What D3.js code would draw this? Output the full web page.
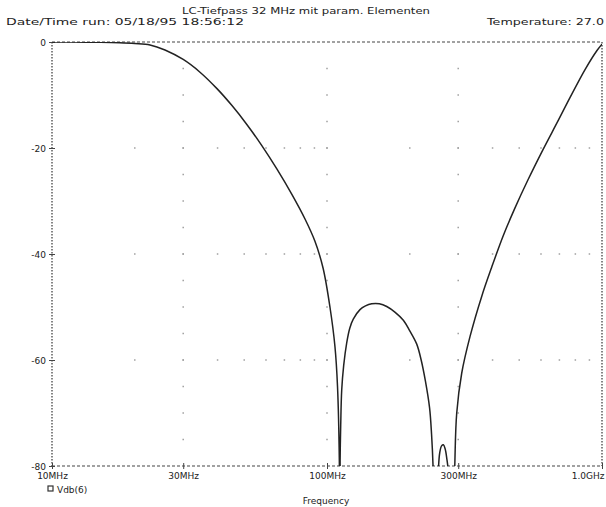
<!DOCTYPE html>
<html>
<head>
<meta charset="utf-8">
<script src="https://cdn.jsdelivr.net/npm/d3@7"></script>
<style>
  html, body { margin: 0; padding: 0; background: #fff; }
  svg { display: block; }
  text { font-family: "DejaVu Sans", "Liberation Sans", sans-serif; fill: #222; }
</style>
</head>
<body>
<svg id="chart" width="606" height="507"></svg>
<script>
// Frequency response of the LC low-pass (PSpice AC sweep), magnitude in dB
const freqMHz = [10, 12, 15, 17.6, 20, 22.72, 25.76, 30, 34.53, 39.8, 45.13, 51.19, 58.03, 65.79, 74.6, 83.18, 90.4, 96.7,
  102.5, 106.9, 109.2, 110.9, 111.25, 111.6, 112.2, 113.1, 115, 117.9, 121, 124.6, 131.8, 138, 145.4,
  155, 164.9, 177, 189.5, 200, 212, 220, 228, 236, 240, 243, 248, 254, 257, 261, 265, 269, 273, 276,
  284, 291.5, 296.3, 308.9, 331.1, 365.2, 397.1, 437.7, 482.7, 538.2, 610.2, 691.8, 764.8, 867.6, 958.9, 1000];
const vdb = [0, -0.02, -0.06, -0.14, -0.28, -0.55, -1.5, -3.3, -5.7, -8.8, -12.0, -15.6, -19.6, -24.0, -28.8, -33.4, -37.6, -42.6,
  -50.0, -57.5, -65.0, -79.4, -110, -79, -72, -65.7, -61, -56.8, -54, -52.3, -50.5, -49.8, -49.4,
  -49.4, -49.9, -51, -52.5, -54.5, -57, -60, -64, -69, -74, -80, -110, -81, -77.5, -76.2, -76, -76.8, -78.8, -81,
  -110, -80, -70, -62.5, -55.6, -48, -42.5, -36.5, -31.3, -26, -20.3, -14.9, -10.5, -5.2, -1.6, -0.4];

const yTicks = [0, -20, -40, -60, -80];
const xTicks = [10, 30, 100, 300, 1000];
const xTickLabels = ["10MHz", "30MHz", "100MHz", "300MHz", "1.0GHz"];
const gridX = [30, 100, 300];
const gridY = [-20, -40, -60];
const gridStepsDb = d3.range(-75, 0, 5);
const minorFreqs = [20, 30, 40, 50, 60, 70, 80, 90, 100, 200, 300, 400, 500, 600, 700, 800, 900];

const titleText = "LC-Tiefpass 32 MHz mit param. Elementen";
const runText = "Date/Time run: 05/18/95  18:56:12";
const tempText = "Temperature: 27.0";
const traceName = "Vdb(6)";
const xAxisTitle = "Frequency";

const svg = d3.select("#chart");
const x = d3.scaleLog().domain([10, 1000]).range([52, 602]);
const y = d3.scaleLinear().domain([-80, 0]).range([466, 42]);

// clip region for the trace (notches go below the -80 dB floor)
svg.append("defs").append("clipPath").attr("id", "plotClip")
  .append("rect")
  .attr("x", x.range()[0]).attr("y", y.range()[1])
  .attr("width", x.range()[1] - x.range()[0])
  .attr("height", y.range()[0] - y.range()[1]);

// dot grid: vertical columns at major frequencies, rows at major dB levels
const grid = svg.append("g").attr("fill", "#a0a0a0");
gridX.forEach(f => {
  grid.selectAll(null).data(gridStepsDb).enter().append("rect")
    .attr("x", x(f) - 0.75).attr("y", d => y(d) - 0.75)
    .attr("width", 1.5).attr("height", 1.5);
});
gridY.forEach(v => {
  grid.selectAll(null).data(minorFreqs).enter().append("rect")
    .attr("x", d => x(d) - 0.75).attr("y", y(v) - 0.75)
    .attr("width", 1.5).attr("height", 1.5);
});

// frame: dashed top/bottom, dotted left/right
const frame = svg.append("g").attr("stroke", "#444").attr("fill", "none");
frame.append("line").attr("x1", x(10)).attr("x2", x(1000)).attr("y1", y(0)).attr("y2", y(0))
  .attr("stroke-width", 1.2).attr("stroke-dasharray", "3,2");
frame.append("line").attr("x1", x(10)).attr("x2", x(1000)).attr("y1", y(-80)).attr("y2", y(-80))
  .attr("stroke-width", 1.2).attr("stroke-dasharray", "3,2");
frame.append("line").attr("x1", x(10)).attr("x2", x(10)).attr("y1", y(0)).attr("y2", y(-80))
  .attr("stroke-width", 1.3).attr("stroke-dasharray", "1.5,1.5");
frame.append("line").attr("x1", x(1000)).attr("x2", x(1000)).attr("y1", y(0)).attr("y2", y(-80))
  .attr("stroke-width", 1.3).attr("stroke-dasharray", "1.5,1.5");

// axes (ticks and labels only, the frame is drawn above)
const yAxis = d3.axisLeft(y).tickValues(yTicks).tickSizeInner(3).tickSizeOuter(0).tickPadding(3)
  .tickFormat(d => d === 0 ? "0" : "-" + Math.abs(d));
const gy = svg.append("g").attr("transform", `translate(${x(10)},0)`).call(yAxis);
gy.select(".domain").remove();
gy.selectAll(".tick line").attr("stroke", "#444").attr("x2", 3).attr("x1", -3);
gy.selectAll(".tick text").attr("font-size", 9).attr("fill", "#222").attr("dy", "0.35em");

const xAxis = d3.axisBottom(x).tickValues(xTicks).tickSizeInner(3).tickSizeOuter(0).tickPadding(4)
  .tickFormat((d, i) => xTickLabels[i]);
const gx = svg.append("g").attr("transform", `translate(0,${y(-80)})`).call(xAxis);
gx.select(".domain").remove();
gx.selectAll(".tick line").attr("stroke", "#444").attr("y1", -3).attr("y2", 3);
gx.selectAll(".tick text").attr("font-size", 9).attr("fill", "#222")
  .attr("text-anchor", (d, i) => i === xTicks.length - 1 ? "end" : "middle")
  .attr("dx", (d, i) => i === xTicks.length - 1 ? "2" : "0");

// trace
const line = d3.line()
  .x((d, i) => x(freqMHz[i]))
  .y(d => y(d))
  .curve(d3.curveCatmullRom.alpha(0.5));
svg.append("path")
  .attr("clip-path", "url(#plotClip)")
  .attr("d", line(vdb))
  .attr("fill", "none")
  .attr("stroke", "#222")
  .attr("stroke-width", 1.5);

// header texts
svg.append("text").attr("x", 306).attr("y", 14).attr("text-anchor", "middle")
  .attr("font-size", 9).attr("textLength", 248).attr("lengthAdjust", "spacingAndGlyphs").text(titleText);
svg.append("text").attr("x", 6).attr("y", 25)
  .attr("font-size", 9).attr("textLength", 238).attr("lengthAdjust", "spacingAndGlyphs").text(runText);
svg.append("text").attr("x", 604).attr("y", 25).attr("text-anchor", "end")
  .attr("font-size", 9).attr("textLength", 117).attr("lengthAdjust", "spacingAndGlyphs").text(tempText);

// legend
svg.append("rect").attr("x", 48).attr("y", 486).attr("width", 5).attr("height", 5)
  .attr("fill", "none").attr("stroke", "#333").attr("stroke-width", 1.2);
svg.append("text").attr("x", 57).attr("y", 493).attr("font-size", 9).text(traceName);

// x axis title
svg.append("text").attr("x", 326).attr("y", 504).attr("text-anchor", "middle")
  .attr("font-size", 9).text(xAxisTitle);
</script>
</body>
</html>
